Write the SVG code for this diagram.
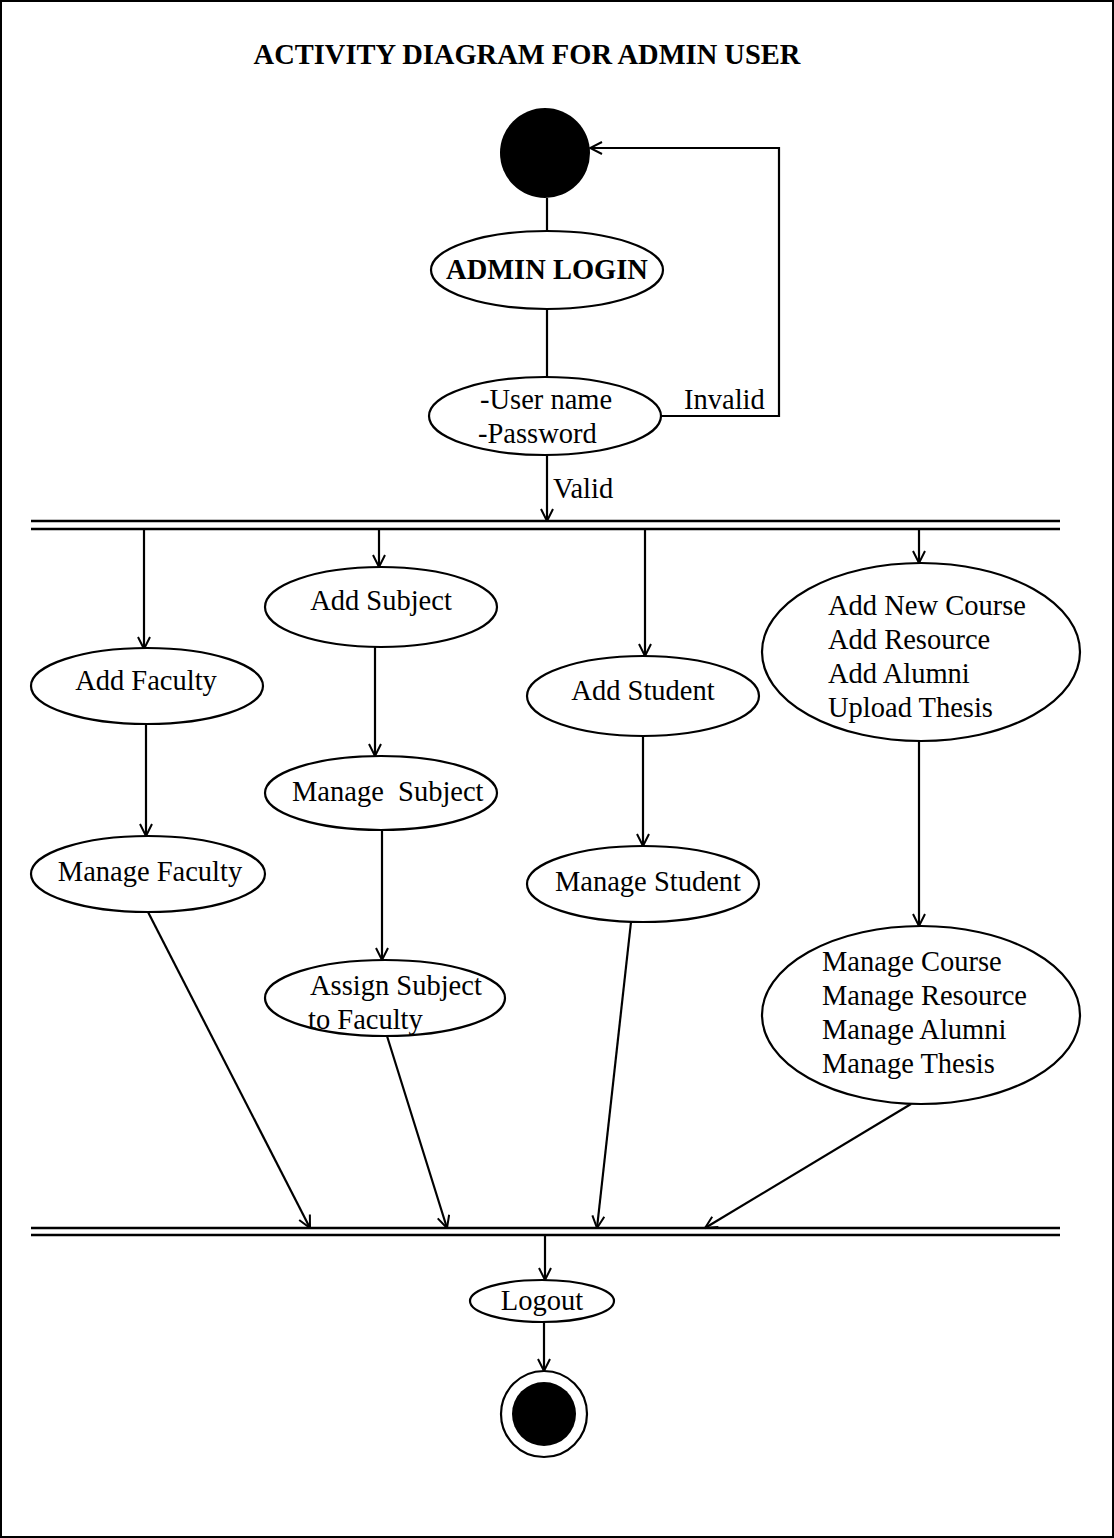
<svg xmlns="http://www.w3.org/2000/svg" width="1114" height="1538" viewBox="0 0 1114 1538">
<style>
text{font-family:"Liberation Serif","Times New Roman",serif;font-size:28.5px;fill:#000}
.b{font-weight:bold}
.n{fill:#fff;stroke:#000;stroke-width:2.2}
.c line,.c path,.c polyline{stroke:#000;stroke-width:2.2;fill:none}
.bar{stroke:#000;stroke-width:2.6}
</style>
<defs>
<marker id="a" viewBox="0 0 14 14" refX="13" refY="7" markerWidth="14" markerHeight="14" markerUnits="userSpaceOnUse" orient="auto">
<path d="M1,1 L13,7 L1,13" fill="none" stroke="#000" stroke-width="2"/>
</marker>
</defs>
<rect x="1" y="1" width="1112" height="1536" fill="#fff" stroke="#000" stroke-width="2"/>
<text class="b" x="527" y="64" text-anchor="middle" font-size="27">ACTIVITY DIAGRAM FOR ADMIN USER</text>

<g id="bars">
<line class="bar" x1="31" y1="521" x2="1060" y2="521"/>
<line class="bar" x1="31" y1="529" x2="1060" y2="529"/>
<line class="bar" x1="31" y1="1228" x2="1060" y2="1228"/>
<line class="bar" x1="31" y1="1235" x2="1060" y2="1235"/>
</g>

<g class="c" id="connectors">
<line x1="547" y1="198" x2="547" y2="231"/>
<line x1="547" y1="309" x2="547" y2="377"/>
<polyline points="661,416 779,416 779,148 590,148" marker-end="url(#a)"/>
<line x1="547" y1="455" x2="547" y2="521" marker-end="url(#a)"/>
<line x1="144" y1="529" x2="144" y2="649" marker-end="url(#a)"/>
<line x1="379" y1="529" x2="379" y2="567" marker-end="url(#a)"/>
<line x1="645" y1="529" x2="645" y2="656" marker-end="url(#a)"/>
<line x1="919" y1="529" x2="919" y2="563" marker-end="url(#a)"/>
<line x1="146" y1="724" x2="146" y2="836" marker-end="url(#a)"/>
<line x1="375" y1="647" x2="375" y2="756" marker-end="url(#a)"/>
<line x1="382" y1="830" x2="382" y2="960" marker-end="url(#a)"/>
<line x1="643" y1="736" x2="643" y2="846" marker-end="url(#a)"/>
<line x1="919" y1="741" x2="919" y2="926" marker-end="url(#a)"/>
<line x1="148" y1="912" x2="310" y2="1228" marker-end="url(#a)"/>
<line x1="387" y1="1036" x2="447" y2="1228" marker-end="url(#a)"/>
<line x1="631" y1="922" x2="597" y2="1228" marker-end="url(#a)"/>
<line x1="911" y1="1104" x2="705" y2="1228" marker-end="url(#a)"/>
<line x1="545" y1="1235" x2="545" y2="1280" marker-end="url(#a)"/>
<line x1="544" y1="1322" x2="544" y2="1371" marker-end="url(#a)"/>
</g>
<text x="684" y="409">Invalid</text>
<text x="553" y="498">Valid</text>

<g id="start"><circle cx="545" cy="153" r="45" fill="#000"/></g>
<g id="login"><ellipse class="n" cx="547" cy="270" rx="116" ry="39"/><text class="b" x="547" y="279" text-anchor="middle">ADMIN LOGIN</text></g>
<g id="cred"><ellipse class="n" cx="545" cy="416" rx="116" ry="39"/><text x="480" y="409">-User name</text><text x="478" y="443">-Password</text></g>
<g id="addFaculty"><ellipse class="n" cx="147" cy="686" rx="116" ry="38"/><text x="146" y="690" text-anchor="middle">Add Faculty</text></g>
<g id="manageFaculty"><ellipse class="n" cx="148" cy="874" rx="117" ry="38"/><text x="150" y="881" text-anchor="middle">Manage Faculty</text></g>
<g id="addSubject"><ellipse class="n" cx="381" cy="607" rx="116" ry="40"/><text x="381" y="610" text-anchor="middle">Add Subject</text></g>
<g id="manageSubject"><ellipse class="n" cx="381" cy="793" rx="116" ry="37"/><text x="292" y="801" xml:space="preserve">Manage  Subject</text></g>
<g id="assignSubject"><ellipse class="n" cx="385" cy="998" rx="120" ry="38"/><text x="310" y="995">Assign Subject</text><text x="308" y="1029">to Faculty</text></g>
<g id="addStudent"><ellipse class="n" cx="643" cy="696" rx="116" ry="40"/><text x="643" y="700" text-anchor="middle">Add Student</text></g>
<g id="manageStudent"><ellipse class="n" cx="643" cy="884" rx="116" ry="38"/><text x="648" y="891" text-anchor="middle">Manage Student</text></g>
<g id="addCourse"><ellipse class="n" cx="921" cy="652" rx="159" ry="89"/><text x="828" y="615">Add New Course</text><text x="828" y="649">Add Resource</text><text x="828" y="683">Add Alumni</text><text x="828" y="717">Upload Thesis</text></g>
<g id="manageCourse"><ellipse class="n" cx="921" cy="1015" rx="159" ry="89"/><text x="822" y="971">Manage Course</text><text x="822" y="1005">Manage Resource</text><text x="822" y="1039">Manage Alumni</text><text x="822" y="1073">Manage Thesis</text></g>
<g id="logout"><ellipse class="n" cx="542" cy="1301" rx="72" ry="21"/><text x="542" y="1310" text-anchor="middle">Logout</text></g>
<g id="end"><circle cx="544" cy="1414" r="43" fill="#fff" stroke="#000" stroke-width="2.2"/><circle cx="544" cy="1414" r="32" fill="#000"/></g>
</svg>
